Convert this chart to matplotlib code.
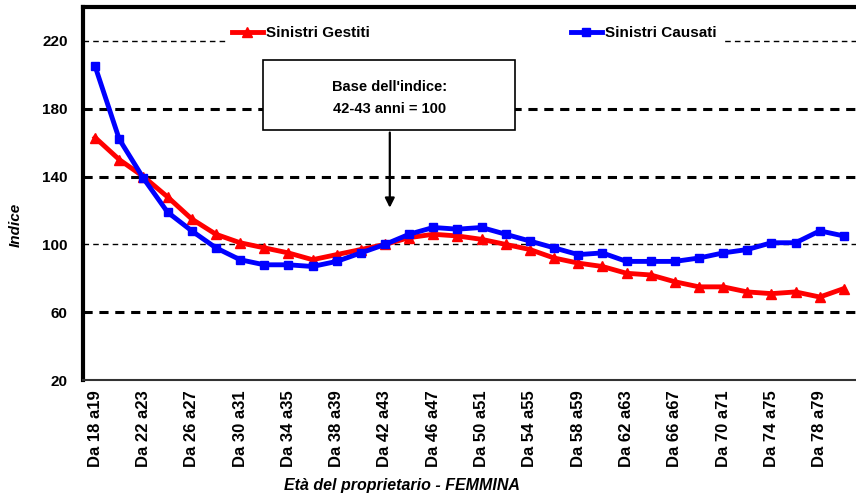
import matplotlib.pyplot as plt
from matplotlib.patches import Rectangle

# %% Dati

eta = ['Da 18 a19', 'Da 20 a21', 'Da 22 a23', 'Da 24 a25', 'Da 26 a27', 'Da 28 a29',
       'Da 30 a31', 'Da 32 a33', 'Da 34 a35', 'Da 36 a37', 'Da 38 a39', 'Da 40 a41',
       'Da 42 a43', 'Da 44 a45', 'Da 46 a47', 'Da 48 a49', 'Da 50 a51', 'Da 52 a53',
       'Da 54 a55', 'Da 56 a57', 'Da 58 a59', 'Da 60 a61', 'Da 62 a63', 'Da 64 a65',
       'Da 66 a67', 'Da 68 a69', 'Da 70 a71', 'Da 72 a73', 'Da 74 a75', 'Da 76 a77',
       'Da 78 a79', 'Da 80 a81']

gestiti = [163, 150, 140, 128, 115, 106, 101, 98, 95, 91, 94, 97, 100, 104, 106, 105,
           103, 100, 97, 92, 89, 87, 83, 82, 78, 75, 75, 72, 71, 72, 69, 74]

causati = [205, 162, 139, 119, 108, 98, 91, 88, 88, 87, 90, 95, 100, 106, 110, 109,
           110, 106, 102, 98, 94, 95, 90, 90, 90, 92, 95, 97, 101, 101, 108, 105]

y_ticks = [20, 60, 100, 140, 180, 220]
righe_spesse = [60, 140, 180]
righe_sottili = [100, 220]
base = 'Da 42 a43'

plt.rcParams['font.family'] = ['Liberation Sans', 'DejaVu Sans']

# %% Grafico

fig = plt.figure(figsize=(8.56, 4.95), dpi=100)
ax = fig.add_axes([0.097, 0.232, 0.903, 0.754])

x = list(range(len(eta)))

for r in righe_spesse:
    ax.axhline(r, color='black', lw=2.2, ls=(0, (3, 2.2)), zorder=1)
for r in righe_sottili:
    ax.axhline(r, color='black', lw=1.0, ls=(0, (4, 3)), zorder=1)

ax.plot(x, gestiti, color='red', lw=3.5, marker='^', ms=7, label='Sinistri Gestiti', zorder=3)
ax.plot(x, causati, color='blue', lw=3.5, marker='s', ms=6, label='Sinistri Causati', zorder=4)

ax.set_xlim(-0.5, len(eta) - 0.5)
ax.set_ylim(20, 240)
ax.set_yticks(y_ticks)
ax.set_yticklabels([str(v) for v in y_ticks], fontsize=11, fontweight='bold')
ax.set_xticks(x[::2])
ax.set_xticklabels(eta[::2], rotation=90, fontsize=12, fontweight='bold')
ax.tick_params(axis='y', length=0, pad=11)
ax.tick_params(axis='x', length=0, pad=7)

ax.spines['right'].set_visible(False)
ax.spines['left'].set_linewidth(3)
ax.spines['top'].set_linewidth(3)
ax.spines['bottom'].set_linewidth(1.5)
ax.spines['bottom'].set_color('#333333')

ax.set_ylabel('Indice', fontsize=11, fontweight='bold', style='italic')
ax.yaxis.set_label_coords(-0.078, 0.415)
ax.set_xlabel('Età del proprietario - FEMMINA', fontsize=11.5, fontweight='bold', style='italic')
ax.xaxis.set_label_coords(0.413, -0.263)

leg = ax.legend(loc='upper center', bbox_to_anchor=(0.506, 0.985), ncol=2, frameon=True,
                fancybox=False, edgecolor='none', facecolor='white', framealpha=1,
                columnspacing=13.2, handlelength=2.0, handletextpad=0.2,
                prop={'size': 11, 'weight': 'bold'})

# riquadro base dell'indice
box = Rectangle((0.233, 0.670), 0.326, 0.188, transform=ax.transAxes,
                facecolor='white', edgecolor='black', lw=1.2, zorder=6)
ax.add_patch(box)
ax.text(0.396, 0.756, "Base dell'indice:\n42-43 anni = 100", transform=ax.transAxes,
        ha='center', va='center', fontsize=10.5, fontweight='bold', linespacing=1.75, zorder=7)

xb = eta.index(base)
ax.annotate('', xy=(xb + 0.2, 120), xytext=(xb + 0.2, 167.6),
            arrowprops=dict(arrowstyle='-|>', color='black', lw=1.6, mutation_scale=14),
            zorder=7)

plt.savefig('out.png', dpi=100)
